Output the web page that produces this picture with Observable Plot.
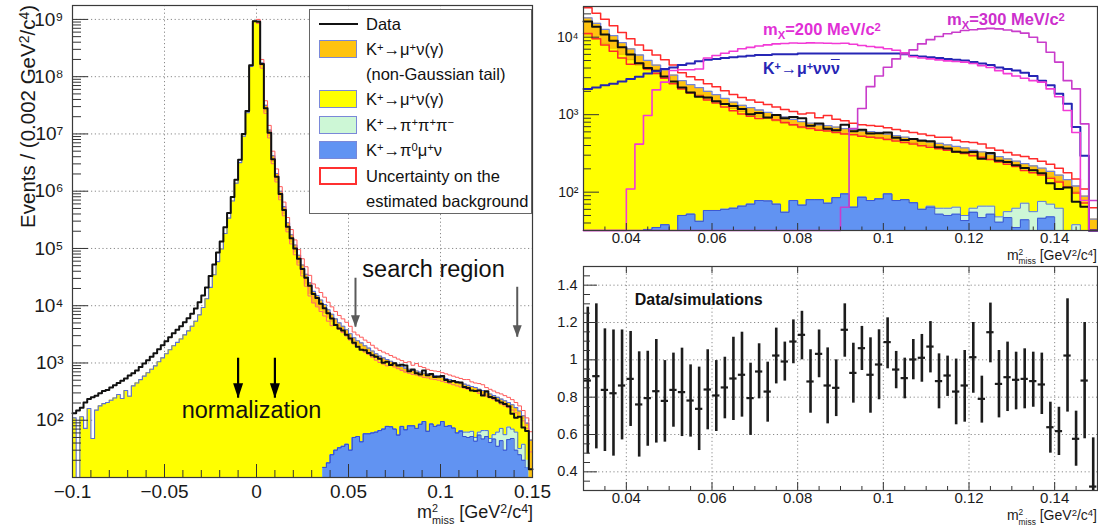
<!DOCTYPE html>
<html><head><meta charset="utf-8">
<script src="https://cdn.jsdelivr.net/npm/d3@7"></script>
<script src="https://cdn.jsdelivr.net/npm/@observablehq/plot@0.6"></script>
<style>
html,body{margin:0;padding:0;background:#fff;}
#wrap{position:relative;width:1098px;height:527px;overflow:hidden;background:#fff;font-family:"Liberation Sans",Arial,Helvetica,sans-serif;color:#1a1a1a;}
.pane{position:absolute;}
.lbl{position:absolute;white-space:nowrap;}
.sp{position:relative;top:-0.4em;font-size:0.68em;}
.sb{position:relative;top:0.35em;font-size:0.68em;}
.stk{display:inline-flex;flex-direction:column;position:relative;top:-0.574em;font-size:0.6em;line-height:1.12;}
.ovl{text-decoration:overline;}
</style></head><body><div id="wrap"></div><script>
// ---------------- binning ----------------
const binStart = -0.1;      // left panel first bin edge
const binWidth = 0.002;
const searchStart = 0.03;   // zoomed panels first bin edge
const errStart = 0.0;       // uncertainty band first bin edge

// ---------------- left panel series (125 bins, -0.1 .. 0.15) ----------------
const data = [
  132,148,166,204,234,251,269,295,324,339,
  372,407,447,490,537,603,661,741,851,977,
  1120,1290,1480,1740,2040,2400,2820,3310,3800,4370,
  5130,6030,7240,8910,11500,15100,20900,33100,52500,85100,
  1.32e5,2.34e5,4.17e5,7.94e5,1.58e6,3.55e6,1.0e7,2.51e7,1.58e8,9.33e8,
  9.12e8,1.66e8,2.82e7,1.05e7,3.63e6,1.78e6,8.91e5,4.68e5,2.40e5,1.51e5,
  1.0e5,66100,43700,30900,22400,
  16000,13600,10800,9000,7400,6000,4600,4000,3680,3100,
  2680,2250,1930,1700,1670,1490,1370,1290,1180,1010,
  1050,920,990,900,930,900,720,770,660,630,
  740,610,640,570,575,590,505,470,485,460,
  455,380,365,332,325,330,270,320,255,245,
  222,205,192,176,130,110,115,75,65,14
];
// total estimated background (top of stack, incl. non-Gaussian tail)
const bgTotal = [
  110,5,115,72,160,48,150,178,195,204,
  224,245,282,240,331,263,398,447,513,589,
  676,776,891,1050,1230,1450,1700,2000,2290,2630,
  3090,3630,4370,5370,6920,9330,13200,20900,34700,58900,
  97700,1.82e5,3.39e5,6.76e5,1.38e6,3.16e6,9.12e6,2.34e7,1.51e8,9.33e8,
  9.33e8,1.74e8,3.16e7,1.17e7,4.17e6,2.04e6,1.0e6,5.37e5,2.82e5,1.74e5,
  1.15e5,75900,51300,35500,25100,
  17800,15100,12600,10500,8510,7080,5890,5010,4370,3800,
  3240,2750,2450,2240,2000,1820,1620,1450,1320,1230,
  1150,1070,1000,933,871,813,776,741,724,692,
  661,646,617,603,589,562,537,513,490,468,
  447,427,407,389,372,347,331,309,288,269,
  251,234,219,204,186,166,145,120,89,45
];
// stack without the non-Gaussian tail (top of yellow)
const bgNoTail = [
  110,5,115,72,160,48,150,178,195,204,
  224,245,282,240,331,263,398,447,513,589,
  676,776,891,1050,1230,1450,1700,2000,2290,2630,
  3090,3630,4370,5370,6920,9330,13200,20900,34700,58900,
  97700,1.82e5,3.39e5,6.76e5,1.38e6,3.16e6,9.12e6,2.34e7,1.51e8,9.33e8,
  8.91e8,1.48e8,2.40e7,8.91e6,3.16e6,1.51e6,7.41e5,3.89e5,2.04e5,1.26e5,
  83200,53700,34700,22900,15500,
  10700,9550,8320,7240,6030,5130,4370,3800,3390,3020,
  2630,2240,2000,1820,1620,1480,1350,1200,1100,1020,
  955,891,832,776,724,676,676,646,631,603,
  575,562,537,525,513,490,479,457,437,417,
  398,380,363,347,331,295,282,263,257,240,
  224,209,195,182,158,141,123,102,77.6,0
];
// uncertainty band (75 bins, 0 .. 0.15)
const errUp = [
  1e9,2e8,3.8e7,1.41e7,5e6,2.45e6,1.2e6,6.46e5,3.47e5,2.14e5,
  1.41e5,95500,66100,47900,33900,
  24000,20400,17000,14100,11500,9550,7940,6760,5890,5130,
  4370,3470,3090,2820,2510,2290,2040,1820,1660,1550,
  1450,1350,1260,1170,1100,1020,1050,912,977,871,
  832,776,741,724,708,676,646,617,589,562,
  537,513,513,468,447,437,417,372,347,324,
  302,288,269,251,229,204,178,148,110,63
];
const errDown = [
  8.5e8,1.41e8,2.29e7,8.51e6,3.02e6,1.45e6,7.08e5,3.72e5,1.95e5,1.2e5,
  77600,51300,33100,21900,14800,
  11200,9550,7940,6610,5370,4470,4570,3890,3390,2950,
  2510,2140,1910,1740,1550,1410,1260,1120,1020,955,
  891,912,851,794,741,692,661,631,617,589,
  562,550,525,513,501,479,457,437,417,398,
  380,363,347,331,316,295,282,263,245,229,
  214,191,178,166,151,135,117,97.7,72.4,28
];
// ---------------- search-window series (60 bins, 0.03 .. 0.15) ----------------
const pi0MuNu = [
  0,0,0,15,18,25,30,33,35,38,
  30,50,52,42,58,58,60,62,66,70,
  78,77,70,55,78,68,80,80,72,85,
  95,64,86,78,82,95,78,80,73,60,
  64,52,50,52,43,55,47,52,41,47,
  35,44,30,46,48,30,25,20,15,0
];
// pi0 mu nu + pi pi pi (cumulative)
const pi3Top = [
  0,0,0,15,18,25,30,33,35,38,
  30,50,52,42,58,58,60,62,66,70,
  78,77,70,55,78,68,80,80,72,85,
  95,64,86,78,82,95,78,80,73,60,
  66,62,62,64,50,62,66,66,48,56,
  62,72,56,76,70,62,32,38,20,0
];
const sigMx200 = [
  0,0,0,0,0,110,417,977,2090,2630,
  3720,3800,3800,3890,5400,5800,6200,6600,7100,7400,
  7700,7950,8200,8300,8400,8370,8450,8400,8370,8300,
  8370,8100,7800,7600,7400,7100,6800,6300,5600,5400,
  5250,5100,4950,4850,4770,4570,4300,4070,3700,3390,
  3160,2950,2750,2630,2150,1700,1130,590,78,0
];
const sigMx300 = [
  0,0,0,0,0,0,0,0,0,0,
  0,0,0,0,0,0,0,0,0,0,
  0,0,0,0,0,0,0,0,0,0,
  64,660,1200,2300,3150,4100,5250,6100,6860,8200,
  9300,10200,11100,11600,12200,12500,12800,13000,12800,12400,
  11900,11300,10000,8600,6400,4770,2750,2150,760,78
];
const muNuNuNu = [
  2140,2240,2400,2510,2690,2880,3090,3390,3630,3890,
  4070,4370,4570,4900,5130,5250,5370,5500,5620,5750,
  5890,5890,6030,6030,6030,6170,6170,6170,6170,6170,
  6170,6170,6170,6170,6170,6170,6170,6030,5750,5620,
  5500,5370,5250,5130,5010,4790,4570,4370,4070,3890,
  3720,3470,3160,2750,2400,1860,1380,692,295,0
];
// ---------------- data / simulation ratio ----------------
const ratio = [
  0.889,0.9125,0.839,0.821,0.8625,0.898,0.761,0.795,0.832,0.780,
  0.839,0.827,0.782,0.7375,0.841,0.809,0.852,0.900,0.920,0.795,
  0.9375,0.830,1.023,0.991,1.098,1.134,0.884,1.032,0.8625,0.850,
  1.161,0.930,1.0625,0.920,0.975,1.095,0.948,0.902,1.002,1.011,
  1.071,0.886,0.916,0.830,0.8625,1.014,0.791,1.148,0.871,0.907,
  0.893,0.898,0.886,0.868,0.639,0.618,1.023,0.577,0.889,0.321
];
const ratioLo = [
  0.496,0.523,0.509,0.484,0.571,0.643,0.479,0.537,0.554,0.559,
  0.639,0.589,0.586,0.514,0.625,0.616,0.684,0.675,0.693,0.595,
  0.791,0.666,0.871,0.886,0.979,1.000,0.714,0.904,0.657,0.696,
  1.014,0.768,0.943,0.714,0.786,0.952,0.845,0.791,0.893,0.880,
  0.930,0.7375,0.804,0.652,0.666,0.821,0.661,0.984,0.689,0.723,
  0.732,0.7375,0.746,0.707,0.500,0.4875,0.720,0.430,0.577,0.25
];
const ratioHi = [
  1.282,1.300,1.166,1.160,1.160,1.152,1.043,1.046,1.109,0.996,
  1.036,1.0625,0.973,0.961,1.054,0.996,1.014,1.121,1.148,0.982,
  1.086,0.9875,1.170,1.095,1.214,1.260,1.054,1.160,1.064,1.000,
  1.300,1.089,1.179,1.118,1.161,1.225,1.045,1.009,1.109,1.136,
  1.205,1.032,1.020,1.004,1.050,1.200,0.9125,1.304,1.050,1.095,
  1.041,1.059,1.041,1.036,0.773,0.746,1.327,0.725,1.200,0.582
];
// ---------------- annotations ----------------
const searchArrows = [{x: 0.0538, y1: 30200, y2: 4220}, {x: 0.1417, y1: 21000, y2: 2820}];
const normArrows = [{x: -0.01, y1: 1210, y2: 243}, {x: 0.01, y1: 1210, y2: 243}];
const leftNotes = [{x: 0.0962, y: 31400, text: "search region"}, {x: -0.0027, y: 108, text: "normalization"}];
const ratioNote = [{x: 0.04195, y: 1.296, text: "Data/simulations"}];

// ---------------- styles ----------------
const cOrange = "#ffc30f", cYellow = "#ffff00", cGreen = "#cdf7d6", cBlue = "#6193f2";
const cOutline = "#5d6fd6", cRed = "#ff2b2b", cMag200 = "#f23ad6", cMag300 = "#c93ccb", cDarkBlue = "#2626b5";
const fontStack = "'Liberation Sans', Arial, Helvetica, sans-serif";
const baseStyle = {background: "transparent", overflow: "visible", fontFamily: fontStack, color: "#1a1a1a"};
const SUP = {"0":"⁰","1":"¹","2":"²","3":"³","4":"⁴","5":"⁵","6":"⁶","7":"⁷","8":"⁸","9":"⁹"};
const fmtPow = d => "10" + String(Math.round(Math.log10(d))).split("").map(c => SUP[c]).join("");
const fmtDec = d => d === 0 ? "0" : (d < 0 ? "\u2212" : "") + String(+Math.abs(d).toFixed(3));
const arrowHead = (w, h) => ({draw(ctx) { ctx.moveTo(0, 0); ctx.lineTo(-w, -h); ctx.lineTo(w, -h); ctx.closePath(); }});

function stepPts(values, start, gapZero) {
  const pts = values.map((v, i) => ({x: start + i * binWidth, y: (v == null || (gapZero && v <= 0)) ? NaN : v}));
  pts.push({x: start + values.length * binWidth, y: pts[pts.length - 1].y});
  return pts;
}
function minorLog(lo, hi) {
  const out = [];
  for (let e = 0; e < 10; e++) for (let m = 2; m <= 9; m++) { const v = m * 10 ** e; if (v >= lo && v <= hi) out.push(v); }
  return out;
}
function linTicks(lo, hi, step, skipStep) {
  const out = [];
  const n = Math.round((hi - lo) / step);
  for (let i = 0; i <= n; i++) {
    const v = +(lo + i * step).toFixed(4);
    if (skipStep && Math.abs(v / skipStep - Math.round(v / skipStep)) < 1e-6) continue;
    out.push(v);
  }
  return out;
}
// inward ROOT-style ticks, drawn as short tick marks inset from the frame
const tickStroke = {stroke: "#333", strokeWidth: 1};
const ticksLeft = (values, len, innerW) => Plot.tickY(values, {y: d => d, insetRight: innerW - len, ...tickStroke});
const ticksBottom = (values, len, innerH) => Plot.tickX(values, {x: d => d, insetTop: innerH - len, ...tickStroke});
const ticksTop = (values, len, innerH) => Plot.tickX(values, {x: d => d, insetBottom: innerH - len, ...tickStroke});
const gridOpts = {stroke: "#8a8a8a", strokeOpacity: 1, strokeWidth: 1, strokeDasharray: "1.2,2.6"};

// ================= LEFT PANEL =================
const L = {w: 560, h: 527, ml: 72, mr: 28, mt: 5, mb: 50};
const Lw = L.w - L.ml - L.mr, Lh = L.h - L.mt - L.mb;
const yDomL = [10, 1.75e9];
const decL = [1e2,1e3,1e4,1e5,1e6,1e7,1e8,1e9];
const xMajL = [-0.1, -0.05, 0, 0.05, 0.1, 0.15];
const xMinL = linTicks(-0.1, 0.15, 0.01, 0.05);
const stepOpts = {x: "x", y: "y", curve: "step-after"};
const areaOpts = (floor, fill) => ({x: "x", y1: floor, y2: "y", curve: "step-after", fill});
const searchSlice = a => a.slice(Math.round((searchStart - binStart) / binWidth));
const errSlice = a => a.slice(Math.round((searchStart - errStart) / binWidth));

const leftPlot = Plot.plot({
  width: L.w, height: L.h, marginLeft: L.ml, marginRight: L.mr, marginTop: L.mt, marginBottom: L.mb,
  style: baseStyle,
  x: {domain: [-0.1, 0.15], label: null},
  y: {type: "log", domain: yDomL, clamp: true, label: null},
  marks: [
    Plot.gridX([-0.05, 0, 0.05, 0.1], gridOpts),
    Plot.gridY(decL, gridOpts),
    Plot.areaY(stepPts(bgTotal, binStart), areaOpts(yDomL[0], cOrange)),
    Plot.areaY(stepPts(bgNoTail, binStart), areaOpts(yDomL[0], cYellow)),
    Plot.areaY(stepPts(pi3Top, searchStart), areaOpts(yDomL[0], cGreen)),
    Plot.areaY(stepPts(pi0MuNu, searchStart), areaOpts(yDomL[0], cBlue)),
    Plot.line(stepPts(pi3Top, searchStart, true), {...stepOpts, stroke: "#4a6fe0", strokeWidth: 1}),
    Plot.line(stepPts(pi0MuNu, searchStart, true), {...stepOpts, stroke: "#3550d0", strokeWidth: 1}),
    Plot.line(stepPts(bgTotal, binStart), {...stepOpts, stroke: cOutline, strokeWidth: 1.1}),
    Plot.line(stepPts(errUp, errStart), {...stepOpts, stroke: "#ff5a5a", strokeWidth: 1}),
    Plot.line(stepPts(errDown, errStart), {...stepOpts, stroke: "#ff6a6a", strokeWidth: 1}),
    Plot.line(stepPts(data, binStart), {...stepOpts, stroke: "#111", strokeWidth: 2}),
    Plot.ruleX(searchArrows, {x: "x", y1: "y1", y2: "y2", stroke: "#5a5a5a", strokeWidth: 2}),
    Plot.dot(searchArrows, {x: "x", y: "y2", symbol: arrowHead(4.5, 12), fill: "#5a5a5a", stroke: null}),
    Plot.ruleX(normArrows, {x: "x", y1: "y1", y2: "y2", stroke: "#000", strokeWidth: 2.2}),
    Plot.dot(normArrows, {x: "x", y: "y2", symbol: arrowHead(5, 15), fill: "#000", stroke: null}),
    Plot.text(leftNotes, {x: "x", y: "y", text: "text", fontSize: 23.5, lineAnchor: "bottom", textAnchor: "middle", fill: "#111"}),
    ticksLeft(decL, 16, Lw),
    ticksLeft(minorLog(yDomL[0], yDomL[1]), 9, Lw),
    ticksBottom(xMajL, 13, Lh),
    ticksBottom(xMinL, 7, Lh),
    Plot.frame({stroke: "#3a3a3a", strokeWidth: 1.2}),
    Plot.axisY(decL, {tickSize: 0, tickPadding: 9, tickFormat: fmtPow, fontSize: 19, fill: "#1a1a1a", label: null}),
    Plot.axisX(xMajL, {tickSize: 0, tickPadding: 7, tickFormat: fmtDec, fontSize: 19, fill: "#1a1a1a", label: null})
  ]
});

// ================= TOP RIGHT PANEL =================
const T = {w: 553, h: 262, ml: 38, mr: 1, mt: 6, mb: 32};
const Tw = T.w - T.ml - T.mr, Th = T.h - T.mt - T.mb;
const yDomT = [32, 24900];
const decT = [1e2, 1e3, 1e4];
const xMajR = linTicks(0.04, 0.14, 0.02);
const xMinR = linTicks(0.03, 0.15, 0.005, 0.02).filter(v => !xMajR.includes(v));
const topPlot = Plot.plot({
  width: T.w, height: T.h, marginLeft: T.ml, marginRight: T.mr, marginTop: T.mt, marginBottom: T.mb,
  style: baseStyle,
  x: {domain: [0.03, 0.15], label: null},
  y: {type: "log", domain: yDomT, clamp: true, label: null},
  marks: [
    Plot.areaY(stepPts(searchSlice(bgTotal), searchStart), areaOpts(yDomT[0], cOrange)),
    Plot.areaY(stepPts(searchSlice(bgNoTail), searchStart), areaOpts(yDomT[0], cYellow)),
    Plot.areaY(stepPts(pi3Top, searchStart), areaOpts(yDomT[0], cGreen)),
    Plot.areaY(stepPts(pi0MuNu, searchStart), areaOpts(yDomT[0], cBlue)),
    Plot.line(stepPts(pi3Top, searchStart, true), {...stepOpts, stroke: "#5b78da", strokeWidth: 1}),
    Plot.line(stepPts(pi0MuNu, searchStart, true), {...stepOpts, stroke: "#3d5ad2", strokeWidth: 1}),
    Plot.line(stepPts(searchSlice(bgNoTail), searchStart, true), {...stepOpts, stroke: "#e6a000", strokeWidth: 0.8}),
    Plot.line(stepPts(searchSlice(bgTotal), searchStart), {...stepOpts, stroke: "#7484d6", strokeWidth: 1.3}),
    Plot.line(stepPts(errSlice(errUp), searchStart), {...stepOpts, stroke: cRed, strokeWidth: 1.5}),
    Plot.line(stepPts(errSlice(errDown), searchStart), {...stepOpts, stroke: cRed, strokeWidth: 1.5}),
    Plot.line(stepPts(searchSlice(data), searchStart), {...stepOpts, stroke: "#111", strokeWidth: 2}),
    Plot.line(stepPts(muNuNuNu, searchStart), {...stepOpts, stroke: cDarkBlue, strokeWidth: 2}),
    Plot.line(stepPts(sigMx200, searchStart), {...stepOpts, stroke: cMag200, strokeWidth: 1.6}),
    Plot.line(stepPts(sigMx300, searchStart), {...stepOpts, stroke: cMag300, strokeWidth: 1.6}),
    ticksLeft(decT, 16, Tw),
    ticksLeft(minorLog(yDomT[0], yDomT[1]), 8, Tw),
    ticksBottom(xMajR, 7, Th),
    ticksBottom(xMinR, 3.5, Th),
    Plot.frame({stroke: "#3a3a3a", strokeWidth: 1.2}),
    Plot.axisY(decT, {tickSize: 0, tickPadding: 5, tickFormat: fmtPow, fontSize: 14, fill: "#1a1a1a", label: null}),
    Plot.axisX(xMajR, {tickSize: 0, tickPadding: 2, tickFormat: fmtDec, fontSize: 15, fill: "#1a1a1a", label: null})
  ]
});

// ================= RATIO PANEL =================
const B = {w: 553, h: 265, ml: 38, mr: 1, mt: 4, mb: 37};
const Bw = B.w - B.ml - B.mr, Bh = B.h - B.mt - B.mb;
const ratioRows = ratio.map((r, i) => ({c: searchStart + (i + 0.5) * binWidth, r, lo: ratioLo[i], hi: ratioHi[i]}));
const yMajRt = [0.4, 0.6, 0.8, 1, 1.2, 1.4];
const yMinRt = linTicks(0.3, 1.5, 0.05).filter(v => !yMajRt.some(m => Math.abs(m - v) < 1e-6));
const bottomPlot = Plot.plot({
  width: B.w, height: B.h, marginLeft: B.ml, marginRight: B.mr, marginTop: B.mt, marginBottom: B.mb,
  style: baseStyle,
  x: {domain: [0.03, 0.15], label: null},
  y: {domain: [0.3, 1.5], label: null},
  marks: [
    Plot.gridX(xMajR, gridOpts),
    Plot.gridY(yMajRt, gridOpts),
    Plot.ruleX(ratioRows, {x: "c", y1: "lo", y2: "hi", stroke: "#1c1c1c", strokeWidth: 2.6, clip: true}),
    Plot.ruleY(ratioRows, {y: "r", x1: d => d.c - 0.00085, x2: d => d.c + 0.00085, stroke: "#1c1c1c", strokeWidth: 2.2, clip: true}),
    Plot.text(ratioNote, {x: "x", y: "y", text: "text", fontSize: 16, fontWeight: "bold", lineAnchor: "bottom", textAnchor: "start", fill: "#111"}),
    ticksLeft(yMajRt, 14, Bw),
    ticksLeft(yMinRt, 7, Bw),
    ticksBottom(xMajR, 8, Bh),
    ticksBottom(xMinR, 4, Bh),
    ticksTop(xMajR, 7, Bh),
    Plot.frame({stroke: "#3a3a3a", strokeWidth: 1.2}),
    Plot.axisY(yMajRt, {tickSize: 0, tickPadding: 6, tickFormat: fmtDec, fontSize: 14.5, fill: "#1a1a1a", label: null}),
    Plot.axisX(xMajR, {tickSize: 0, tickPadding: 2, tickFormat: fmtDec, fontSize: 15, fill: "#1a1a1a", label: null})
  ]
});

// ---------------- assemble ----------------
const wrap = document.getElementById("wrap");
function addPane(node, x, y) { node.classList.add("pane"); node.style.left = x + "px"; node.style.top = y + "px"; node.style.position = "absolute"; wrap.appendChild(node); }
addPane(leftPlot, 0, 0);
addPane(topPlot, 545, 0);
addPane(bottomPlot, 545, 262);

function label(html, o) {
  const d = document.createElement("div");
  d.className = "lbl";
  d.innerHTML = html;
  d.style.fontSize = o.size + "px";
  d.style.lineHeight = o.size + "px";
  d.style.top = (o.baseline - 0.8465 * o.size) + "px";
  if (o.left != null) d.style.left = o.left + "px";
  if (o.right != null) d.style.right = o.right + "px";
  if (o.weight) d.style.fontWeight = o.weight;
  d.style.color = o.color || "#1a1a1a";
  wrap.appendChild(d);
  return d;
}
// m^2_miss with stacked super/subscript
const mmiss = "m<span class='stk'><span>2</span><span>miss</span></span>&nbsp;[GeV<span class='sp'>2</span>/c<span class='sp'>4</span>]";
label(mmiss, {right: 565, baseline: 518.5, size: 18});
label(mmiss, {right: 1, baseline: 259.5, size: 14});
label(mmiss, {right: 1, baseline: 520, size: 14});

const yt = document.createElement("div");
yt.className = "lbl";
yt.innerHTML = "Events / (0.002 GeV<span class='sp'>2</span>/c<span class='sp'>4</span>)";
yt.style.cssText += "left:17px;top:5px;font-size:20.5px;line-height:22px;transform-origin:0 0;transform:rotate(-90deg) translateX(-100%);color:#1a1a1a;";
wrap.appendChild(yt);

label("m<span class='sb'>X</span>=200 MeV/c<span class='sp'>2</span>", {left: 763, baseline: 35, size: 16.5, weight: "bold", color: "#e12fd6"});
label("m<span class='sb'>X</span>=300 MeV/c<span class='sp'>2</span>", {left: 947, baseline: 25, size: 16.5, weight: "bold", color: "#cc2fcc"});
label("K<span class='sp'>+</span>\u2192\u03bc<span class='sp'>+</span>\u03bd\u03bd<span class='ovl'>\u03bd</span>", {left: 763, baseline: 75, size: 16, weight: "bold", color: cDarkBlue});

// legend
const lg = document.createElement("div");
lg.style.cssText = "position:absolute;left:309px;top:9px;width:221px;height:203px;border:1px solid #666;background:#fff;";
wrap.appendChild(lg);
const legendRows = [
  {y: 13.7, sym: "line", html: "Data"},
  {y: 39.3, sym: cOrange, html: "K<span class='sp'>+</span>\u2192\u03bc<span class='sp'>+</span>\u03bd(\u03b3)"},
  {y: 63.7, sym: null, html: "(non-Gaussian tail)"},
  {y: 89.3, sym: cYellow, html: "K<span class='sp'>+</span>\u2192\u03bc<span class='sp'>+</span>\u03bd(\u03b3)"},
  {y: 115, sym: cGreen, html: "K<span class='sp'>+</span>\u2192\u03c0<span class='sp'>+</span>\u03c0<span class='sp'>+</span>\u03c0<span class='sp'>\u2212</span>"},
  {y: 140, sym: cBlue, html: "K<span class='sp'>+</span>\u2192\u03c0<span class='sp'>0</span>\u03bc<span class='sp'>+</span>\u03bd"},
  {y: 166, sym: "red", html: "Uncertainty on the"},
  {y: 191, sym: null, html: "estimated background"}
];
for (const r of legendRows) {
  if (r.sym === "line") {
    const s = document.createElement("div");
    s.style.cssText = `position:absolute;left:9px;top:${r.y - 1}px;width:39px;height:2px;background:#111;`;
    lg.appendChild(s);
  } else if (r.sym) {
    const s = document.createElement("div");
    const border = r.sym === "red" ? "2px solid #ff3030" : "1px solid #7a88d8";
    const bg = r.sym === "red" ? "#fff" : r.sym;
    s.style.cssText = `position:absolute;left:9px;top:${r.y - 9.5}px;width:38px;height:18px;box-sizing:border-box;border:${border};background:${bg};`;
    lg.appendChild(s);
  }
  const t = document.createElement("div");
  t.className = "lbl";
  t.innerHTML = r.html;
  const size = 16.5;
  t.style.cssText += `left:56px;top:${r.y + 5.9 - 0.8465 * size}px;font-size:${size}px;line-height:${size}px;color:#111;`;
  lg.appendChild(t);
}
</script></body></html>
